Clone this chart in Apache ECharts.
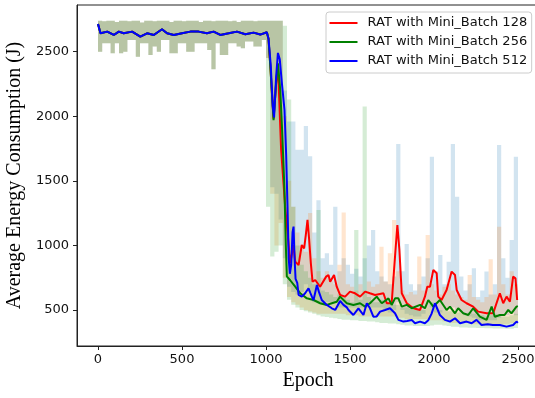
<!DOCTYPE html>
<html>
<head>
<meta charset="utf-8">
<script src="https://cdn.jsdelivr.net/npm/echarts@6/dist/echarts.min.js"></script>
<style>
  html, body { margin: 0; padding: 0; background: #fff; }
  #chart { width: 535px; height: 398px; }
</style>
</head>
<body>
<div id="chart"></div>
<script>
// Tick positions
const xTicks = [0, 500, 1000, 1500, 2000, 2500];
const yTicks = [500, 1000, 1500, 2000, 2500];

// Raw per-episode energy, summarised as min/max bands over 25-epoch buckets.
const bucketEpochs = 25;
// Epochs 0-1000: the three runs are indistinguishable
const earlyLow = [2500, 2565, 2565, 2487, 2565, 2487, 2500, 2590, 2590, 2461, 2565, 2565, 2474, 2539, 2500, 2590, 2590, 2487, 2487, 2565, 2565, 2500, 2500, 2565, 2565, 2565, 2513, 2363, 2565, 2474, 2474, 2565, 2565, 2539, 2526, 2578, 2578, 2539, 2539, 2590];
const earlyHigh = [2740, 2735, 2740, 2740, 2730, 2740, 2740, 2735, 2740, 2740, 2725, 2740, 2740, 2735, 2740, 2740, 2740, 2730, 2740, 2740, 2735, 2740, 2740, 2740, 2730, 2740, 2740, 2735, 2740, 2740, 2740, 2735, 2740, 2730, 2740, 2740, 2740, 2735, 2740, 2740];
// Epochs 1000-2500, per mini-batch size
const rawLow128 = [2450, 1450, 1400, 1200, 900, 680, 640, 620, 640, 700, 640, 560, 560, 540, 560, 560, 560, 520, 520, 520, 520, 520, 520, 520, 520, 520, 520, 520, 500, 480, 500, 560, 500, 470, 460, 450, 450, 470, 520, 520, 480, 480, 500, 520, 520, 500, 480, 460, 450, 440, 420, 420, 420, 420, 420, 440, 460, 460, 480, 460];
const rawHigh128 = [2740, 2740, 2740, 2740, 2200, 1960, 1960, 1740, 1740, 1925, 1690, 1100, 1350, 900, 940, 850, 1300, 800, 900, 850, 780, 820, 760, 900, 1000, 1120, 800, 760, 720, 700, 760, 1785, 800, 1010, 700, 650, 700, 760, 900, 1687, 800, 926, 700, 874, 1785, 1377, 760, 650, 700, 823, 600, 650, 797, 620, 700, 1777, 900, 750, 1042, 1687];
const rawLow256 = [2450, 1400, 1000, 1173, 750, 600, 560, 540, 520, 500, 490, 480, 470, 470, 470, 470, 470, 470, 470, 460, 460, 460, 450, 450, 450, 450, 450, 450, 450, 450, 450, 440, 440, 430, 430, 430, 430, 430, 430, 420, 420, 420, 410, 410, 400, 400, 400, 400, 400, 390, 390, 380, 380, 380, 380, 390, 390, 390, 400, 400];
const rawHigh256 = [2740, 2740, 2740, 2740, 2000, 1500, 1300, 1100, 1000, 950, 1250, 900, 800, 750, 800, 720, 700, 850, 1255, 700, 680, 650, 700, 650, 720, 680, 700, 990, 720, 940, 1197, 800, 650, 620, 640, 620, 913, 650, 1081, 700, 650, 620, 680, 700, 650, 620, 600, 580, 771, 600, 580, 560, 600, 893, 620, 1145, 700, 620, 800, 700];
const rawLow512 = [1300, 913, 950, 1000, 700, 580, 540, 520, 500, 490, 480, 470, 460, 450, 445, 440, 435, 430, 425, 425, 420, 420, 415, 415, 410, 410, 405, 400, 400, 395, 395, 390, 385, 380, 380, 375, 375, 375, 375, 380, 385, 385, 380, 375, 370, 370, 365, 365, 362, 362, 360, 360, 358, 358, 356, 356, 356, 355, 355, 360];
const rawHigh512 = [2740, 2740, 2740, 2740, 2700, 2130, 1300, 1000, 850, 800, 750, 700, 1274, 650, 640, 620, 600, 620, 600, 580, 560, 1119, 580, 2075, 600, 560, 560, 580, 560, 560, 540, 540, 520, 520, 510, 500, 500, 500, 520, 560, 520, 500, 500, 490, 490, 480, 480, 470, 480, 470, 460, 460, 450, 460, 470, 460, 450, 450, 460, 470];

// Smoothed curves [epoch, energy]; before epoch 1000 the three runs coincide
const earlyTrend = [[0, 2714], [15, 2642], [55, 2655], [94, 2629], [124, 2655], [153, 2642], [203, 2655], [252, 2616], [292, 2642], [332, 2629], [381, 2673], [411, 2642], [451, 2629], [500, 2642], [550, 2655], [599, 2655], [648, 2642], [688, 2655], [728, 2629], [778, 2642], [827, 2655], [877, 2634], [926, 2647], [966, 2632], [1005, 2650]];
const trend128 = [[1015, 2600], [1025, 2400], [1045, 1980], [1060, 2250], [1071, 2400], [1090, 1740], [1114, 1300], [1134, 1016], [1144, 861], [1164, 1003], [1174, 874], [1194, 848], [1213, 1003], [1227, 977], [1237, 1081], [1247, 1197], [1257, 1042], [1267, 861], [1277, 719], [1293, 732], [1322, 680], [1358, 758], [1372, 771], [1382, 719], [1405, 771], [1421, 680], [1441, 616], [1471, 603], [1500, 642], [1530, 629], [1560, 603], [1590, 642], [1619, 629], [1649, 616], [1699, 629], [1719, 552], [1748, 552], [1768, 913], [1782, 1158], [1794, 965], [1808, 629], [1838, 552], [1877, 513], [1917, 500], [1946, 603], [1960, 680], [1976, 680], [1996, 810], [2016, 784], [2025, 603], [2045, 577], [2075, 655], [2105, 797], [2125, 771], [2135, 655], [2164, 577], [2194, 552], [2233, 526], [2263, 487], [2313, 474], [2352, 474], [2392, 629], [2412, 552], [2432, 603], [2452, 564], [2471, 758], [2485, 745], [2495, 577]];
const trend256 = [[1015, 2600], [1025, 2400], [1045, 1970], [1060, 2250], [1071, 2410], [1085, 2200], [1095, 1920], [1110, 1430], [1118, 1000], [1124, 760], [1144, 730], [1174, 680], [1204, 629], [1243, 590], [1283, 577], [1322, 552], [1362, 539], [1392, 552], [1421, 564], [1441, 603], [1451, 616], [1481, 552], [1520, 539], [1560, 552], [1590, 526], [1619, 552], [1659, 603], [1689, 552], [1729, 590], [1748, 539], [1768, 590], [1788, 590], [1808, 526], [1838, 539], [1867, 513], [1917, 539], [1946, 513], [1966, 577], [1996, 526], [2035, 577], [2075, 500], [2095, 526], [2125, 474], [2144, 513], [2174, 474], [2204, 461], [2233, 513], [2273, 448], [2313, 423], [2343, 526], [2362, 448], [2392, 461], [2420, 461], [2442, 500], [2461, 474], [2491, 526], [2499, 530]];
const trend512 = [[1015, 2600], [1028, 2400], [1040, 2080], [1048, 1990], [1060, 2300], [1071, 2490], [1082, 2440], [1095, 2250], [1110, 2050], [1120, 1700], [1128, 1300], [1135, 900], [1142, 780], [1150, 850], [1158, 1100], [1164, 1145], [1170, 900], [1176, 740], [1186, 710], [1194, 616], [1213, 603], [1233, 629], [1253, 668], [1273, 603], [1283, 577], [1303, 693], [1315, 640], [1332, 577], [1362, 539], [1372, 526], [1392, 513], [1412, 500], [1421, 487], [1441, 570], [1451, 577], [1461, 539], [1481, 520], [1491, 500], [1520, 461], [1550, 513], [1580, 461], [1600, 552], [1619, 513], [1639, 448], [1659, 450], [1679, 487], [1709, 500], [1738, 513], [1768, 474], [1788, 423], [1818, 410], [1840, 415], [1867, 423], [1887, 397], [1917, 410], [1946, 397], [1966, 420], [1985, 470], [2006, 552], [2035, 461], [2065, 423], [2095, 410], [2125, 436], [2155, 397], [2194, 410], [2224, 397], [2253, 423], [2283, 384], [2320, 390], [2350, 384], [2392, 384], [2432, 371], [2471, 384], [2491, 410], [2499, 400]];

const seriesNames = ['RAT with Mini_Batch 128', 'RAT with Mini_Batch 256', 'RAT with Mini_Batch 512'];
const lineColors = ['#ff0000', '#008000', '#0000ff'];
const bandColors = ['rgba(31,119,180,0.2)', 'rgba(255,127,14,0.2)', 'rgba(44,160,44,0.2)'];

const bands = [
  { low: earlyLow.concat(rawLow128), high: earlyHigh.concat(rawHigh128) },
  { low: earlyLow.concat(rawLow256), high: earlyHigh.concat(rawHigh256) },
  { low: earlyLow.concat(rawLow512), high: earlyHigh.concat(rawHigh512) }
];
const trends = [trend128, trend256, trend512].map(t => earlyTrend.concat(t));

// One stepped polygon per run: upper edge left to right, lower edge back
function bandRenderer(band, fill) {
  return function (params, api) {
    const pts = [];
    for (let i = 0; i < band.high.length; i++) {
      pts.push(api.coord([i * bucketEpochs, band.high[i]]));
      pts.push(api.coord([(i + 1) * bucketEpochs, band.high[i]]));
    }
    for (let i = band.low.length - 1; i >= 0; i--) {
      pts.push(api.coord([(i + 1) * bucketEpochs, band.low[i]]));
      pts.push(api.coord([i * bucketEpochs, band.low[i]]));
    }
    return { type: 'polygon', shape: { points: pts }, style: { fill: fill } };
  };
}

const series = [];
bands.forEach((band, k) => {
  series.push({
    type: 'custom',
    silent: true,
    clip: true,
    data: [[0, band.high[0]]],
    renderItem: bandRenderer(band, bandColors[k]),
    z: 1
  });
});
trends.forEach((t, k) => {
  series.push({
    name: seriesNames[k],
    type: 'line',
    data: t,
    showSymbol: false,
    symbol: 'none',
    clip: true,
    lineStyle: { color: lineColors[k], width: 2 },
    itemStyle: { color: lineColors[k] },
    z: 3 + k
  });
});

const tickFont = { fontFamily: 'DejaVu Sans', fontSize: 13, color: '#111', formatter: v => String(v) };
const spine = { show: true, onZero: false, lineStyle: { color: '#222', width: 1 } };

const chart = echarts.init(document.getElementById('chart'), null, { renderer: 'canvas' });
chart.setOption({
  animation: false,
  backgroundColor: '#fff',
  grid: { left: 77, right: -4, top: 5, bottom: 52, containLabel: false, outerBoundsMode: 'none', show: true, borderColor: '#222', borderWidth: 1, backgroundColor: 'transparent' },
  xAxis: {
    type: 'value', min: -125, max: 2625,
    axisLine: spine,
    splitLine: { show: false },
    axisTick: { show: true, inside: false, length: 4, customValues: xTicks, lineStyle: { color: '#222' } },
    axisLabel: Object.assign({ customValues: xTicks, margin: 7 }, tickFont),
    name: 'Epoch', nameLocation: 'middle', nameGap: 24,
    nameTextStyle: { fontFamily: 'Liberation Serif', fontSize: 20, color: '#000' }
  },
  yAxis: {
    type: 'value', min: 221, max: 2861,
    axisLine: spine,
    splitLine: { show: false },
    axisTick: { show: true, inside: false, length: 4, customValues: yTicks, lineStyle: { color: '#222' } },
    axisLabel: Object.assign({ customValues: yTicks, margin: 8 }, tickFont),
    name: 'Average Energy Consumption (J)', nameLocation: 'middle', nameGap: 40,
    nameTextStyle: { fontFamily: 'Liberation Serif', fontSize: 20, color: '#000' }
  },
  legend: {
    data: seriesNames,
    orient: 'vertical',
    left: 326, top: 12,
    icon: 'rect', itemWidth: 28, itemHeight: 2, itemGap: 0,
    padding: [1.5, 4.5, 2.5, 3.5],
    backgroundColor: 'rgba(255,255,255,0.8)',
    borderColor: '#cccccc', borderWidth: 1, borderRadius: 3,
    textStyle: { fontFamily: 'DejaVu Sans', fontSize: 13, color: '#111', lineHeight: 19, padding: [0, 0, 0, 5] }
  },
  series: series
});
</script>
</body>
</html>
